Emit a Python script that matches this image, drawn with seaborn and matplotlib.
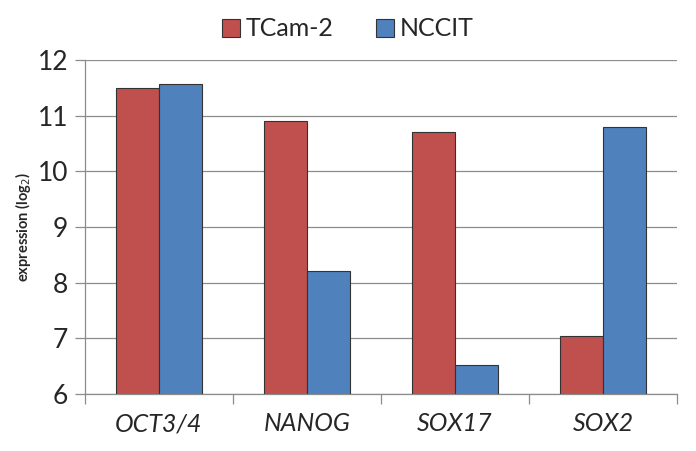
import matplotlib
matplotlib.use("Agg")
import matplotlib.pyplot as plt
import numpy as np
import pandas as pd
import seaborn as sns

genes = ["OCT3/4", "NANOG", "SOX17", "SOX2"]
tcam2 = [11.50, 10.90, 10.70, 7.05]
nccit = [11.57, 8.21, 6.52, 10.79]
cell_lines = ["TCam-2", "NCCIT"]
colors = ["#C0504D", "#4F81BD"]

df = pd.DataFrame({
    "gene": genes * 2,
    "value": tcam2 + nccit,
    "line": [cell_lines[0]] * len(genes) + [cell_lines[1]] * len(genes),
})

sns.set_style("white")
plt.rcParams["font.family"] = ["Lato", "DejaVu Sans"]

fig = plt.figure(figsize=(6.96, 4.51), dpi=100)
ax = fig.add_axes([0.122, 0.126, 0.851, 0.741])

sns.barplot(data=df, x="gene", y="value", hue="line", palette=colors,
            width=0.58, edgecolor="#333333", linewidth=0.8, saturation=1,
            ax=ax, zorder=3)

ax.set_ylim(6, 12)
ax.set_xlim(-0.5, len(genes) - 0.5)
ax.set_yticks(np.arange(6, 13, 1))
ax.yaxis.grid(True, color="#8c8c8c", linewidth=0.9, zorder=0)
ax.set_axisbelow(True)

for side in ["top", "right"]:
    ax.spines[side].set_visible(False)
for side in ["left", "bottom"]:
    ax.spines[side].set_color("#8c8c8c")
    ax.spines[side].set_linewidth(0.9)

ax.tick_params(axis="y", direction="out", length=7, width=0.9, color="#8c8c8c",
               labelsize=19, pad=5, left=True)
ax.set_xticks(np.arange(len(genes)))
ax.set_xticklabels(genes, fontsize=18, style="italic")
ax.tick_params(axis="x", length=0, pad=13)
ax.set_xticks(np.arange(-0.5, len(genes)), minor=True)
ax.tick_params(axis="x", which="minor", direction="out", length=7, width=0.9,
               color="#8c8c8c", bottom=True)

ax.set_xlabel("")
ax.set_ylabel("expression (log$_2$)", fontsize=10.5, fontweight="bold", labelpad=3)

ax.legend(loc="upper center", bbox_to_anchor=(0.5, 1.0), bbox_transform=fig.transFigure,
          ncol=2, frameon=False, fontsize=18, handlelength=0.7, handleheight=0.7,
          handletextpad=0.25, columnspacing=1.7, borderpad=0.2)

fig.savefig("out.png", dpi=100)
